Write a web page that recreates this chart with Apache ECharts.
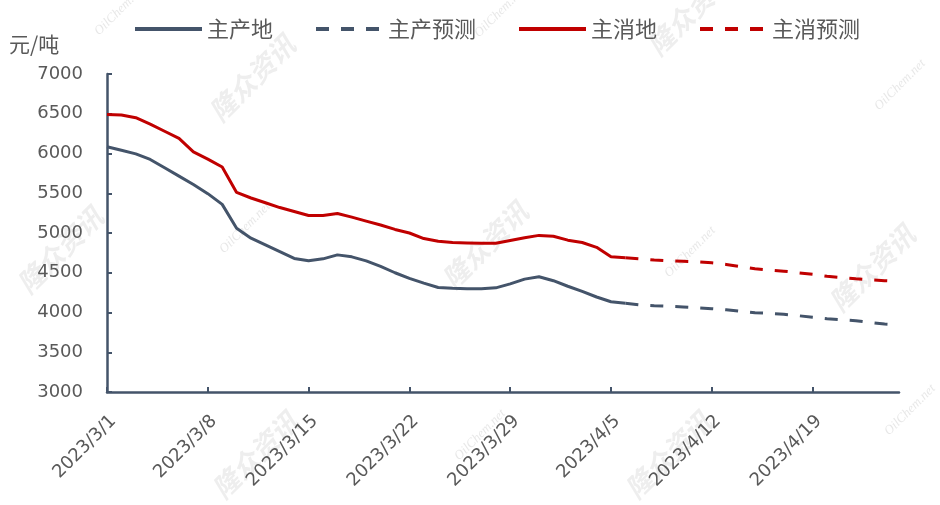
<!DOCTYPE html>
<html>
<head>
<meta charset="utf-8">
<script src="https://cdn.jsdelivr.net/npm/echarts@6/dist/echarts.min.js"></script>
<style>
html,body{margin:0;padding:0;background:#fff;}
#chart{width:940px;height:505px;}
</style>
</head>
<body>
<div id="chart"></div>
<script>
var categories = [
  "2023/3/1","2023/3/2","2023/3/3","2023/3/4","2023/3/5","2023/3/6","2023/3/7",
  "2023/3/8","2023/3/9","2023/3/10","2023/3/11","2023/3/12","2023/3/13","2023/3/14",
  "2023/3/15","2023/3/16","2023/3/17","2023/3/18","2023/3/19","2023/3/20","2023/3/21",
  "2023/3/22","2023/3/23","2023/3/24","2023/3/25","2023/3/26","2023/3/27","2023/3/28",
  "2023/3/29","2023/3/30","2023/3/31","2023/4/1","2023/4/2","2023/4/3","2023/4/4",
  "2023/4/5","2023/4/6","2023/4/7","2023/4/8","2023/4/9","2023/4/10","2023/4/11",
  "2023/4/12","2023/4/13","2023/4/14","2023/4/15","2023/4/16","2023/4/17","2023/4/18",
  "2023/4/19","2023/4/20","2023/4/21","2023/4/22","2023/4/23","2023/4/24","2023/4/25"
];
// 主产地 actual (3/1 - 4/6)
var producerActual = [6085,6040,5995,5925,5820,5715,5610,5495,5360,5060,4935,4850,4765,4680,4650,4675,4725,4700,4650,4580,4500,4430,4370,4315,4305,4300,4300,4310,4360,4420,4450,4400,4330,4265,4195,4135,4115];
// 主产预测 forecast (4/6 - 4/25)
var producerForecast = [4115,4095,4085,4078,4070,4060,4048,4035,4015,3998,3988,3978,3960,3940,3922,3910,3897,3875,3855,3845];
// 主消地 actual (3/1 - 4/6)
var consumerActual = [6490,6485,6450,6370,6280,6190,6020,5930,5830,5510,5440,5380,5320,5270,5220,5220,5245,5200,5150,5100,5045,5000,4930,4895,4880,4875,4870,4870,4905,4940,4970,4960,4910,4880,4820,4700,4690];
// 主消预测 forecast (4/6 - 4/25)
var consumerForecast = [4690,4675,4660,4650,4645,4638,4625,4605,4575,4550,4535,4520,4500,4480,4456,4440,4425,4412,4400,4392];
var yTicks = [3000,3500,4000,4500,5000,5500,6000,6500,7000];
var seriesNames = ["主产地","主产预测","主消地","主消预测"];

function padForecast(arr){
  var out = [];
  var start = categories.length - arr.length;
  for (var i = 0; i < start; i++) out.push(null);
  return out.concat(arr);
}

var BLUE = "#44546A", RED = "#C00000", GRAY = "#595959";
var numFont = "DejaVu Sans";
var cjkFont = "Noto Sans CJK SC";

var wmBig = [[252,78],[60,250],[485,245],[255,455],[668,455],[872,268],[690,12]];
var wmSmall = [[245,228],[480,435],[690,252],[900,85],[910,410],[120,10],[500,12]];
var graphics = [];
wmBig.forEach(function(p){
  graphics.push({type:"text", x:p[0], y:p[1], rotation:Math.PI/4, z:-1, silent:true,
    style:{text:"隆众资讯", font:"italic bold 27px '" + cjkFont + "'", fill:"rgba(170,170,170,0.2)", align:"center", verticalAlign:"middle"}});
});
wmSmall.forEach(function(p){
  graphics.push({type:"text", x:p[0], y:p[1], rotation:Math.PI/4, z:-1, silent:true,
    style:{text:"OilChem.net", font:"italic 13px 'Liberation Serif'", fill:"rgba(170,170,170,0.28)", align:"center", verticalAlign:"middle"}});
});
graphics.push({type:"text", left:9, top:34, style:{text:"元/吨", font:"21px '" + cjkFont + "'", fill:GRAY}});

var chart = echarts.init(document.getElementById("chart"), null, {renderer:"canvas"});
chart.setOption({
  animation:false,
  backgroundColor:"#fff",
  graphic:graphics,
  legend:{
    left:128, top:13, itemWidth:67, itemHeight:12, itemGap:41,
    itemStyle:{color:"rgba(0,0,0,0)", borderWidth:0, opacity:0},
    lineStyle:{width:4},
    textStyle:{fontFamily:cjkFont, fontSize:22, color:GRAY},
    data:seriesNames
  },
  grid:{left:107, right:41, top:74, bottom:113, containLabel:false},
  xAxis:{
    type:"category", boundaryGap:false, data:categories,
    axisLine:{lineStyle:{color:BLUE, width:2.5}},
    axisTick:{inside:true, length:5, interval:6, lineStyle:{color:BLUE, width:2}},
    axisLabel:{interval:6, rotate:45, margin:20, fontFamily:numFont, fontSize:18, color:GRAY, verticalAlign:"top"},
    splitLine:{show:false}
  },
  yAxis:{
    type:"value", min:yTicks[0], max:yTicks[yTicks.length-1], interval:500,
    axisLine:{show:true, lineStyle:{color:BLUE, width:2.5}},
    axisTick:{show:true, inside:true, length:5, lineStyle:{color:BLUE, width:2}},
    axisLabel:{margin:24, fontFamily:numFont, fontSize:18, color:GRAY, formatter:function(v){return String(v);}},
    splitLine:{show:false}
  },
  series:[
    {name:seriesNames[0], type:"line", data:producerActual, symbol:"none", color:BLUE,
      lineStyle:{color:BLUE, width:3}},
    {name:seriesNames[1], type:"line", data:padForecast(producerForecast), symbol:"none", color:BLUE,
      lineStyle:{color:BLUE, width:3, type:[13,12]}},
    {name:seriesNames[2], type:"line", data:consumerActual, symbol:"none", color:RED,
      lineStyle:{color:RED, width:3}},
    {name:seriesNames[3], type:"line", data:padForecast(consumerForecast), symbol:"none", color:RED,
      lineStyle:{color:RED, width:3, type:[13,12]}}
  ]
});
</script>
</body>
</html>
